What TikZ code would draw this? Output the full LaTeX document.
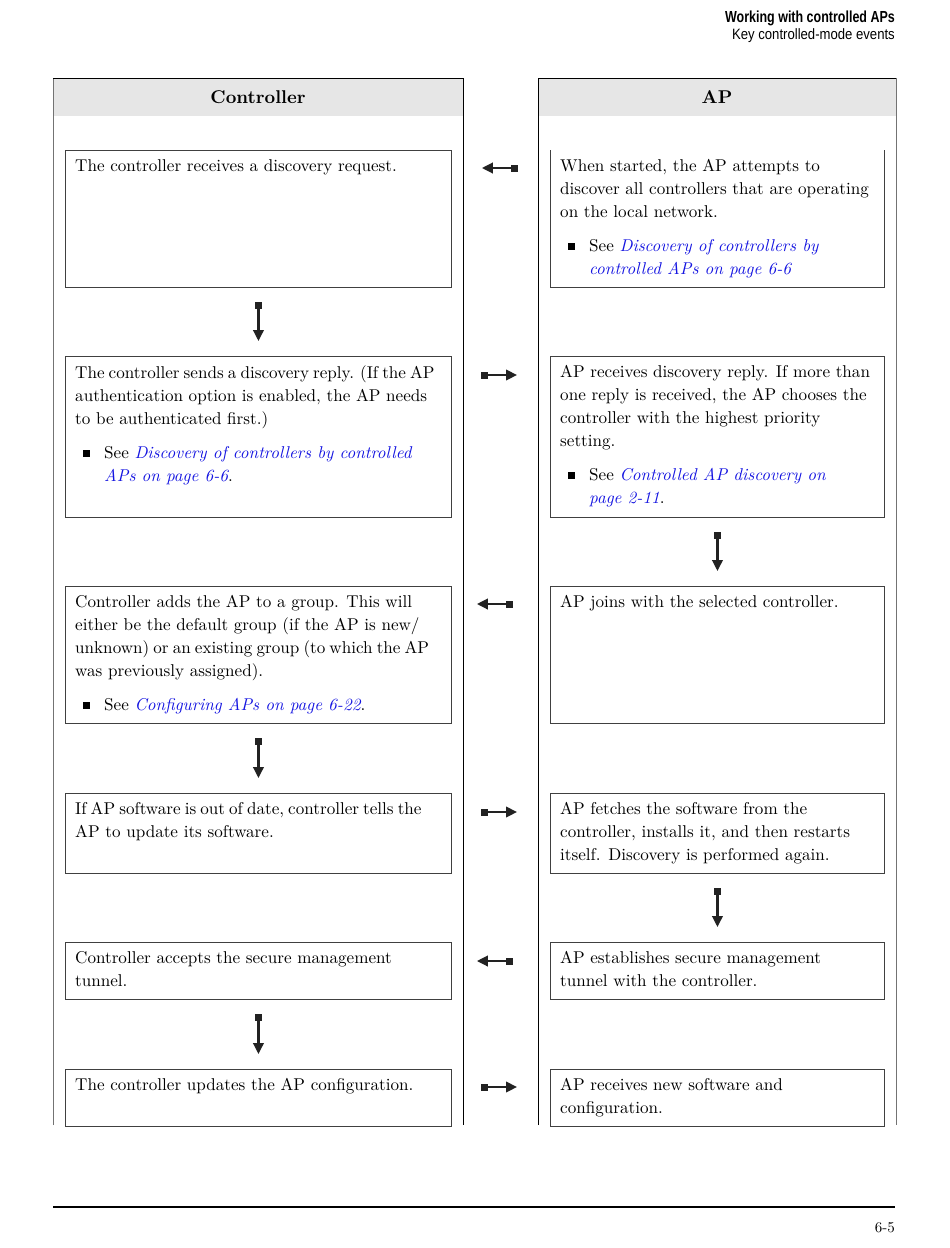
\documentclass[tikz,border=0pt]{standalone}
\usepackage{fontspec}
\setmainfont{lmroman10-regular.otf}[BoldFont=lmroman10-bold.otf, ItalicFont=lmroman10-italic.otf, BoldItalicFont=lmroman10-bolditalic.otf]
\newfontfamily\hdrfont{Liberation Sans}
\usetikzlibrary{arrows.meta,calc}
\definecolor{linkblue}{RGB}{20,20,225}
\definecolor{hdrgray}{RGB}{230,230,230}
\definecolor{arrowcol}{RGB}{34,34,34}
\newcommand{\lnk}[1]{\textcolor{linkblue}{\itshape #1}}
\newcommand{\bul}{\hspace*{8pt}\rule[1.5pt]{7pt}{7pt}\hspace*{14pt}}
\newcommand{\bulind}{\hspace*{29pt}}
\newcommand{\tightline}[1]{{\spaceskip=0.72\fontdimen2\font\relax #1}}
\tikzset{
  x=1pt, y=-1pt,
  boxline/.style={draw=black!75, line width=0.9pt},
  stepbox/.style={boxline, anchor=north west, inner sep=0pt},
  txt/.style={anchor=north west, inner sep=0pt, align=left, font=\fontsize{17.1}{23}\selectfont},
  flow/.style={draw=arrowcol, line width=2.3pt, {Square[length=7pt,width=7pt]}-{Triangle[length=11pt,width=10.5pt]}},
  colhead/.style={font=\bfseries\fontsize{18.5}{20}\selectfont},
}
\begin{document}
\begin{tikzpicture}
\useasboundingbox[fill=white] (0,0) rectangle (950,1248);

% page header
\node[anchor=east, inner sep=0pt, font=\hdrfont\bfseries\fontsize{16}{16}\selectfont] (h1) at (895,18) {\scalebox{0.78}[1]{Working with controlled APs}};
\node[anchor=east, inner sep=0pt, font=\hdrfont\fontsize{15}{15}\selectfont] (h2) at (895,36) {\scalebox{0.875}[1]{Key controlled-mode events}};

% columns
\fill[hdrgray] (53,78) rectangle (463,116);
\fill[hdrgray] (538,78) rectangle (896,116);
\draw[black!55, line width=0.8pt] (53,1125) -- (53,78);
\draw[black, line width=1pt] (53,78) -- (463,78) -- (463,1125);
\draw[black, line width=1pt] (538,1125) -- (538,78) -- (896,78);
\draw[black!55, line width=0.8pt] (896,78) -- (896,1125);
\node[colhead] (hc) at (258,97) {Controller};
\node[colhead] (ha) at (717,97) {AP};

% left boxes
\node[stepbox, minimum width=386pt, minimum height=137pt] (L1) at (65,150) {};
\node[stepbox, minimum width=386pt, minimum height=161pt] (L2) at (65,356) {};
\node[stepbox, minimum width=386pt, minimum height=137pt] (L3) at (65,586) {};
\node[stepbox, minimum width=386pt, minimum height=80pt] (L4) at (65,793) {};
\node[stepbox, minimum width=386pt, minimum height=57pt] (L5) at (65,942) {};
\node[stepbox, minimum width=386pt, minimum height=57pt] (L6) at (65,1069) {};
% right boxes
\node[anchor=north west, inner sep=0pt, minimum width=334pt, minimum height=137pt] (R1) at (550,150) {};
\draw[boxline] (R1.north west) -- (R1.south west) -- (R1.south east) -- (R1.north east);
\node[stepbox, minimum width=334pt, minimum height=161pt] (R2) at (550,356) {};
\node[stepbox, minimum width=334pt, minimum height=137pt] (R3) at (550,586) {};
\node[stepbox, minimum width=334pt, minimum height=80pt] (R4) at (550,793) {};
\node[stepbox, minimum width=334pt, minimum height=57pt] (R5) at (550,942) {};
\node[stepbox, minimum width=334pt, minimum height=57pt] (R6) at (550,1069) {};

% texts
\node[txt] (tL1) at ($(L1.north west)+(10,9)$) {The controller receives a discovery request.};
\node[txt] (tL2) at ($(L2.north west)+(10,9)$) {\tightline{The controller sends a discovery reply. (If the AP}\\
authentication option is enabled, the AP needs\\
to be authenticated first.)\\[11pt]
\bul See \lnk{Discovery of controllers by controlled}\\
\bulind\lnk{APs on page 6-6}.};
\node[txt] (tL3) at ($(L3.north west)+(10,9)$) {Controller adds the AP to a group. This will\\
either be the default group (if the AP is new/\\
\tightline{unknown) or an existing group (to which the AP}\\
was previously assigned).\\[11pt]
\bul See \lnk{Configuring APs on page 6-22}.};
\node[txt] (tL4) at ($(L4.north west)+(10,9)$) {\tightline{If AP software is out of date, controller tells the}\\
AP to update its software.};
\node[txt] (tL5) at ($(L5.north west)+(10,9)$) {Controller accepts the secure management\\
tunnel.};
\node[txt] (tL6) at ($(L6.north west)+(10,9)$) {The controller updates the AP configuration.};

\node[txt] (tR1) at ($(R1.north west)+(10,9)$) {When started, the AP attempts to\\
discover all controllers that are operating\\
on the local network.\\[11pt]
\bul See \lnk{Discovery of controllers by}\\
\bulind\lnk{controlled APs on page 6-6}};
\node[txt] (tR2) at ($(R2.north west)+(10,9)$) {AP receives discovery reply. If more than\\
one reply is received, the AP chooses the\\
controller with the highest priority\\
setting.\\[11pt]
\bul See \lnk{Controlled AP discovery on}\\
\bulind\lnk{page 2-11}.};
\node[txt] (tR3) at ($(R3.north west)+(10,9)$) {AP joins with the selected controller.};
\node[txt] (tR4) at ($(R4.north west)+(10,9)$) {AP fetches the software from the\\
controller, installs it, and then restarts\\
itself. Discovery is performed again.};
\node[txt] (tR5) at ($(R5.north west)+(10,9)$) {AP establishes secure management\\
tunnel with the controller.};
\node[txt] (tR6) at ($(R6.north west)+(10,9)$) {AP receives new software and\\
configuration.};

% vertical arrows
\draw[flow] ($(L1.south)+(0,14)$) -- ($(L2.north)+(0,-15)$);
\draw[flow] ($(L3.south)+(0,14)$) -- ($(L4.north)+(0,-15)$);
\draw[flow] ($(L5.south)+(0,14)$) -- ($(L6.north)+(0,-15)$);
\draw[flow] ($(R2.south)+(0,14)$) -- ($(R3.north)+(0,-15)$);
\draw[flow] ($(R4.south)+(0,14)$) -- ($(R5.north)+(0,-15)$);

% horizontal arrows
\draw[flow] ($(R1.north west)+(-32,18)$) -- ($(L1.north east)+(30,18)$);
\draw[flow] ($(L2.north east)+(29,19)$) -- ($(R2.north west)+(-33,19)$);
\draw[flow] ($(R3.north west)+(-37,18)$) -- ($(L3.north east)+(25,18)$);
\draw[flow] ($(L4.north east)+(29,19)$) -- ($(R4.north west)+(-33,19)$);
\draw[flow] ($(R5.north west)+(-37,19)$) -- ($(L5.north east)+(25,19)$);
\draw[flow] ($(L6.north east)+(29,18)$) -- ($(R6.north west)+(-33,18)$);

% footer
\draw[black, line width=2pt] (53,1207) -- (895,1207);
\node[anchor=east, inner sep=0pt, font=\fontsize{15}{15}\selectfont] (pg) at (895,1228) {6-5};
\end{tikzpicture}
\end{document}
